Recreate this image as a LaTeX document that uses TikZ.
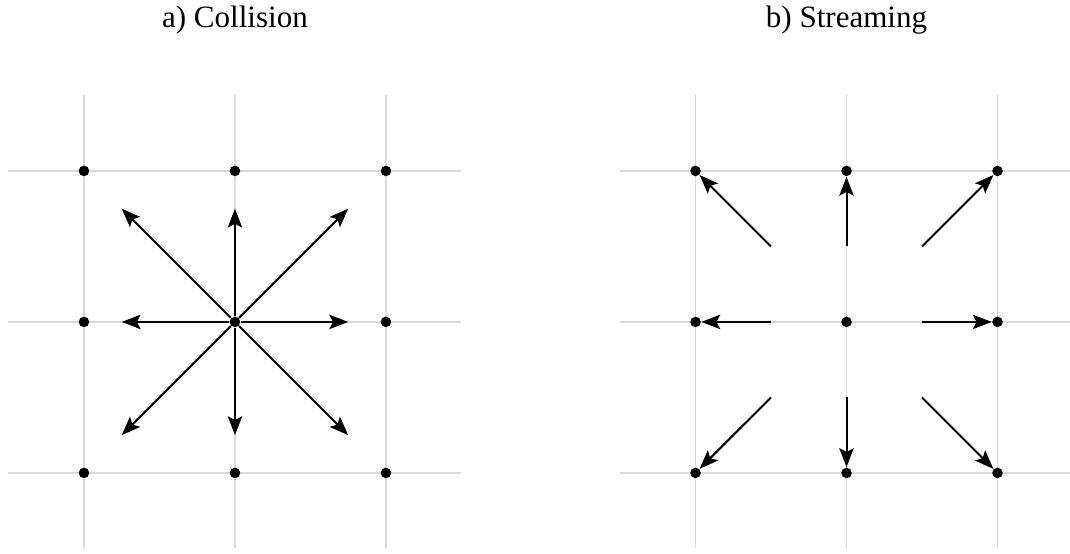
\documentclass[tikz,border=0pt]{standalone}
\usepackage{fontspec}
\setmainfont{Liberation Serif}
\usetikzlibrary{arrows.meta}
\begin{document}
\begin{tikzpicture}[x=2cm,y=2cm,
  gridline/.style={draw=black!15,line width=0.5pt},
  dot/.style={circle,fill=black,inner sep=0pt,minimum size=0.14cm},
  vec/.style={line width=0.75pt,-{Stealth[length=2.5mm,width=1.9mm,inset=0.5mm]}},
  title/.style={font=\fontsize{11.7}{14}\selectfont}]
\useasboundingbox (-1.556,-1.536) rectangle (5.530,2.132);
% titles
\node[title] (ta) at (0,2.0) {a) Collision};
\node[title] (tb) at (4.05,2.0) {b) Streaming};
% grids
\foreach \ox/\p in {0/a,4.05/b}{
  \foreach \k in {-1,0,1}{
    \draw[gridline] (\ox-1.5,\k) -- (\ox+1.5,\k);
    \draw[gridline] (\ox+\k,-1.5) -- (\ox+\k,1.5);
  }
  \foreach \i/\xx in {0/-1,1/0,2/1}{
    \foreach \j/\yy in {0/-1,1/0,2/1}{
      \node[dot] (\p\i\j) at (\ox+\xx,\yy) {};
    }
  }
}
% collision arrows
\foreach \n/\dx/\dy in {e/0.75/0,w/-0.75/0,n/0/0.75,s/0/-0.75,ne/0.75/0.75,nw/-0.75/0.75,se/0.75/-0.75,sw/-0.75/-0.75}{
  \coordinate (ca\n) at (\dx,\dy);
  \draw[vec] (a11) -- (ca\n);
}
% streaming arrows
\foreach \n/\dx/\dy/\t in {e/0.5/0/b21,w/-0.5/0/b01,n/0/0.5/b12,s/0/-0.5/b10,ne/0.5/0.5/b22,nw/-0.5/0.5/b02,se/0.5/-0.5/b20,sw/-0.5/-0.5/b00}{
  \coordinate (sb\n) at (4.05+\dx,\dy);
  \draw[vec] (sb\n) -- (\t);
}
\end{tikzpicture}
\end{document}
